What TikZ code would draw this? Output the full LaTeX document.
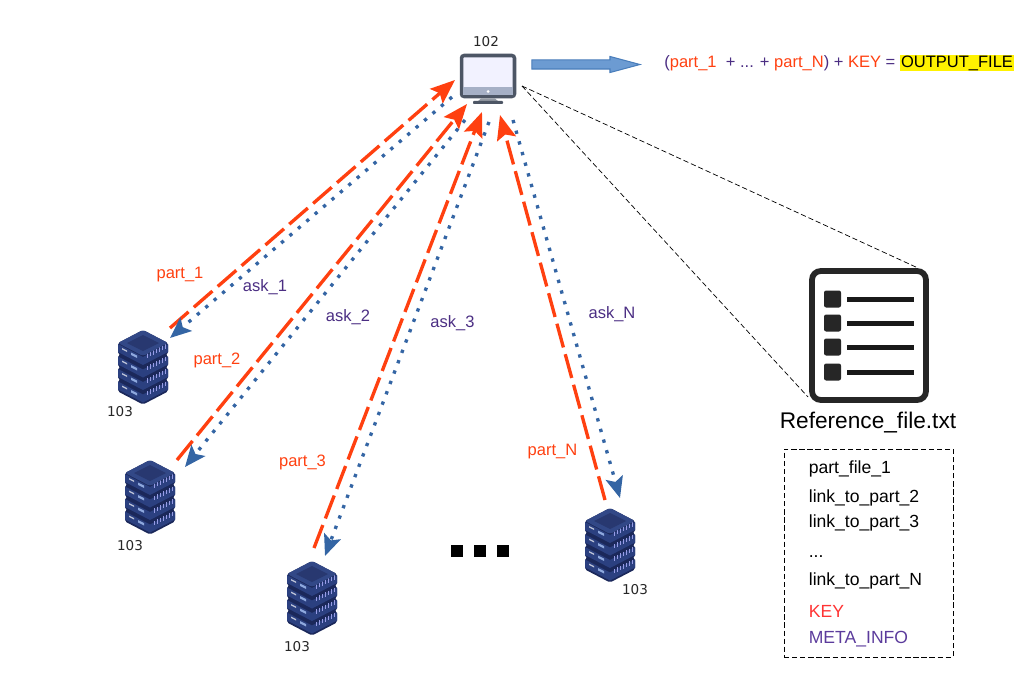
\documentclass[tikz,border=0pt]{standalone}
\usepackage{fontspec}
\setmainfont{Liberation Sans}
\newfontfamily\numfont{DejaVu Sans}
\usepackage{xcolor}
\definecolor{partRed}{RGB}{255,64,16}
\definecolor{askBlue}{RGB}{52,101,164}
\definecolor{labelPurple}{RGB}{75,46,131}
\definecolor{keyRed}{RGB}{255,51,51}
\definecolor{metaPurple}{RGB}{91,59,156}
\definecolor{stackDark}{RGB}{27,40,90}
\definecolor{stackFace}{RGB}{43,64,128}
\definecolor{stackTop}{RGB}{50,72,135}
\definecolor{stackInner}{RGB}{40,56,112}
\definecolor{screenFrame}{RGB}{77,86,101}
\definecolor{screenChin}{RGB}{166,176,198}
\definecolor{outFill}{RGB}{108,155,210}
\definecolor{outEdge}{RGB}{74,126,187}
\usetikzlibrary{arrows.meta, positioning, shapes.arrows}

\begin{document}
\begin{tikzpicture}[
  x=0.02cm, y=-0.02cm,
  partarr/.style={-{Stealth[length=14pt, width=11pt, inset=2.5pt]}, line width=1.9pt, color=partRed, dash pattern=on 14pt off 4pt},
  askarr/.style={-{Stealth[length=12pt, width=10pt, inset=2.5pt]}, line width=1.9pt, color=askBlue, dash pattern=on 1.9pt off 4.4pt},
  refline/.style={thin, dash pattern=on 3pt off 1.6pt, color=black},
  partlab/.style={font=\fontsize{9.4}{11}\selectfont, color=partRed},
  asklab/.style={font=\fontsize{9.4}{11}\selectfont, color=labelPurple},
  idlab/.style={font=\numfont\fontsize{7.7}{9}\selectfont, color=black!85},
  listitem/.style={anchor=west, inner sep=0pt, font=\fontsize{10}{12}\selectfont, text height=7.2pt, text depth=2.2pt},
  pics/serverstack/.style={code={
    \foreach \o in {37.5,25,12.5,0} {
      \fill[stackDark, rounded corners=1pt] (-25,13+\o) -- (0,\o) -- (25,13+\o) -- (25,24+\o) -- (0,37+\o) -- (-25,24+\o) -- cycle;
      \fill[stackFace] (-25,14+\o) -- (0,27+\o) -- (0,35+\o) -- (-25,22+\o) -- cycle;
      \fill[stackFace] (25,14+\o) -- (0,27+\o) -- (0,35+\o) -- (25,22+\o) -- cycle;
      \fill[white!70!stackFace] (-21,18+\o) -- (-16,20.6+\o) -- (-16,22+\o) -- (-21,19.4+\o) -- cycle;
      \fill[cyan!45!blue!45!white] (-12,22.5+\o) -- (-6,25.6+\o) -- (-6,28+\o) -- (-12,24.9+\o) -- cycle;
      \foreach \v in {4,7,10,13,16,19,22}
        \draw[blue!30!white!80!stackFace, line width=0.5pt] (\v,{25.5+\o-0.52*\v}) -- (\v,{30+\o-0.52*\v});
    }
    \fill[stackTop, rounded corners=1.5pt] (-25,13) -- (0,0) -- (25,13) -- (0,26) -- cycle;
    \fill[stackInner] (-16,13) -- (0,5) -- (16,13) -- (0,21) -- cycle;
  }}
]
  \useasboundingbox (0,0) rectangle (1022,679);

  % host
  \node[draw=screenFrame, fill=white!95!blue, line width=2pt, rounded corners=1.5pt, minimum width=1.06cm, minimum height=0.82cm, inner sep=0pt] (host) at (488,76) {};
  \fill[screenChin] (463,87) rectangle (513,95.5);
  \fill[white] (488,91.5) circle (1.5);
  \fill[screenFrame!60!white] (481,98.5) -- (495,98.5) -- (499,102) -- (477,102) -- cycle;
  \fill[screenFrame, rounded corners=0.5pt] (473,101) rectangle (503,104);
  \node[idlab] (hostid) at (486,42) {102};

  % storage nodes
  \pic at (143,330) {serverstack};
  \pic at (150,460) {serverstack};
  \pic at (312,561) {serverstack};
  \pic at (610,508) {serverstack};
  \node[idlab] (idA) at (120,412) {103};
  \node[idlab] (idB) at (130,546) {103};
  \node[idlab] (idC) at (297,647) {103};
  \node[idlab] (idD) at (635,590) {103};

  % ends of the connectors
  \coordinate (hostPartA) at (455,80);
  \coordinate (hostAskA) at (452,97);
  \coordinate (srvPartA) at (170,328);
  \coordinate (srvAskA) at (170,338);
  \coordinate (hostPartB) at (467,104);
  \coordinate (hostAskB) at (465,120);
  \coordinate (srvPartB) at (177,460);
  \coordinate (srvAskB) at (185,467);
  \coordinate (hostPartC) at (482,112);
  \coordinate (hostAskC) at (489,122);
  \coordinate (srvPartC) at (314,548);
  \coordinate (srvAskC) at (325,556);
  \coordinate (hostPartD) at (500,115);
  \coordinate (hostAskD) at (513,120);
  \coordinate (srvPartD) at (605,500);
  \coordinate (srvAskD) at (620,498);
  \coordinate (hostRef) at (522,86);

  \draw[partarr] (srvPartA) -- (hostPartA);
  \draw[askarr] (hostAskA) -- (srvAskA);
  \draw[partarr] (srvPartB) -- (hostPartB);
  \draw[askarr] (hostAskB) -- (srvAskB);
  \draw[partarr] (srvPartC) -- (hostPartC);
  \draw[askarr] (hostAskC) -- (srvAskC);
  \draw[partarr] (srvPartD) -- (hostPartD);
  \draw[askarr] (hostAskD) -- (srvAskD);

  \node[partlab] (partA) at (180,274.5) {part\_1};
  \node[asklab] (askA) at (265,287.5) {ask\_1};
  \node[partlab] (partB) at (217,360.5) {part\_2};
  \node[asklab] (askB) at (348,317.5) {ask\_2};
  \node[partlab] (partC) at (302.5,462.5) {part\_3};
  \node[asklab] (askC) at (452.5,323.5) {ask\_3};
  \node[partlab] (partD) at (552.5,451.5) {part\_N};
  \node[asklab] (askD) at (612,314.5) {ask\_N};

  % three dots
  \foreach \n/\x in {dotA/457,dotB/480,dotC/503}
    \node[fill=black, minimum size=0.24cm, inner sep=0pt] (\n) at (\x,551) {};

  % output
  \node[single arrow, draw=outEdge, fill=outFill, line width=0.6pt, minimum width=0.3cm, minimum height=2.16cm, single arrow head extend=0.07cm, single arrow tip angle=30, inner sep=0.08cm] (outarrow) at (577.5,64.5) {};
  \node[anchor=west, inner sep=0pt, font=\fontsize{9.4}{11}\selectfont, color=labelPurple] (formula) at (664,63) {(\textcolor{partRed}{part\_1}\ \ + ... + \textcolor{partRed}{part\_N}) + \textcolor{partRed}{KEY} = {\fboxsep=0.6pt\colorbox{yellow}{\textcolor{black}{OUTPUT\_FILE}}}};

  % reference file
  \node[draw=black!85, fill=white, line width=3.3pt, rounded corners=5pt, minimum width=2.28cm, minimum height=2.58cm, inner sep=0pt] (reffile) at (869,335.5) {};
  \foreach \y in {299,323,347,372} {
    \fill[black!85, rounded corners=1.2pt] (824,\y-8.5) rectangle (841,\y+8.5);
    \fill[black!90] (847,\y-2.5) rectangle (914,\y+2.5);
  }
  \coordinate (fileTop) at (918,268);
  \coordinate (fileBot) at (808,397);
  \draw[refline] (hostRef) -- (fileTop);
  \draw[refline] (hostRef) -- (fileBot);
  \node[font=\fontsize{12.9}{15}\selectfont] (refname) at (868,422.5) {Reference\_file.txt};

  % contents of the file
  \node[draw=black, dash pattern=on 3pt off 1.6pt, line width=0.45pt, minimum width=3.38cm, minimum height=4.16cm, inner sep=0pt] (listbox) at (868.5,553) {};
  \node[listitem] (itemA) at (808.5,469) {part\_file\_1};
  \node[listitem] (itemB) at (808.5,498) {link\_to\_part\_2};
  \node[listitem] (itemC) at (808.5,523) {link\_to\_part\_3};
  \node[listitem] (itemD) at (808.5,553) {...};
  \node[listitem] (itemE) at (808.5,581) {link\_to\_part\_N};
  \node[listitem, color=keyRed] (itemF) at (808.5,613) {KEY};
  \node[listitem, color=metaPurple] (itemG) at (808.5,639) {META\_INFO};
\end{tikzpicture}
\end{document}
